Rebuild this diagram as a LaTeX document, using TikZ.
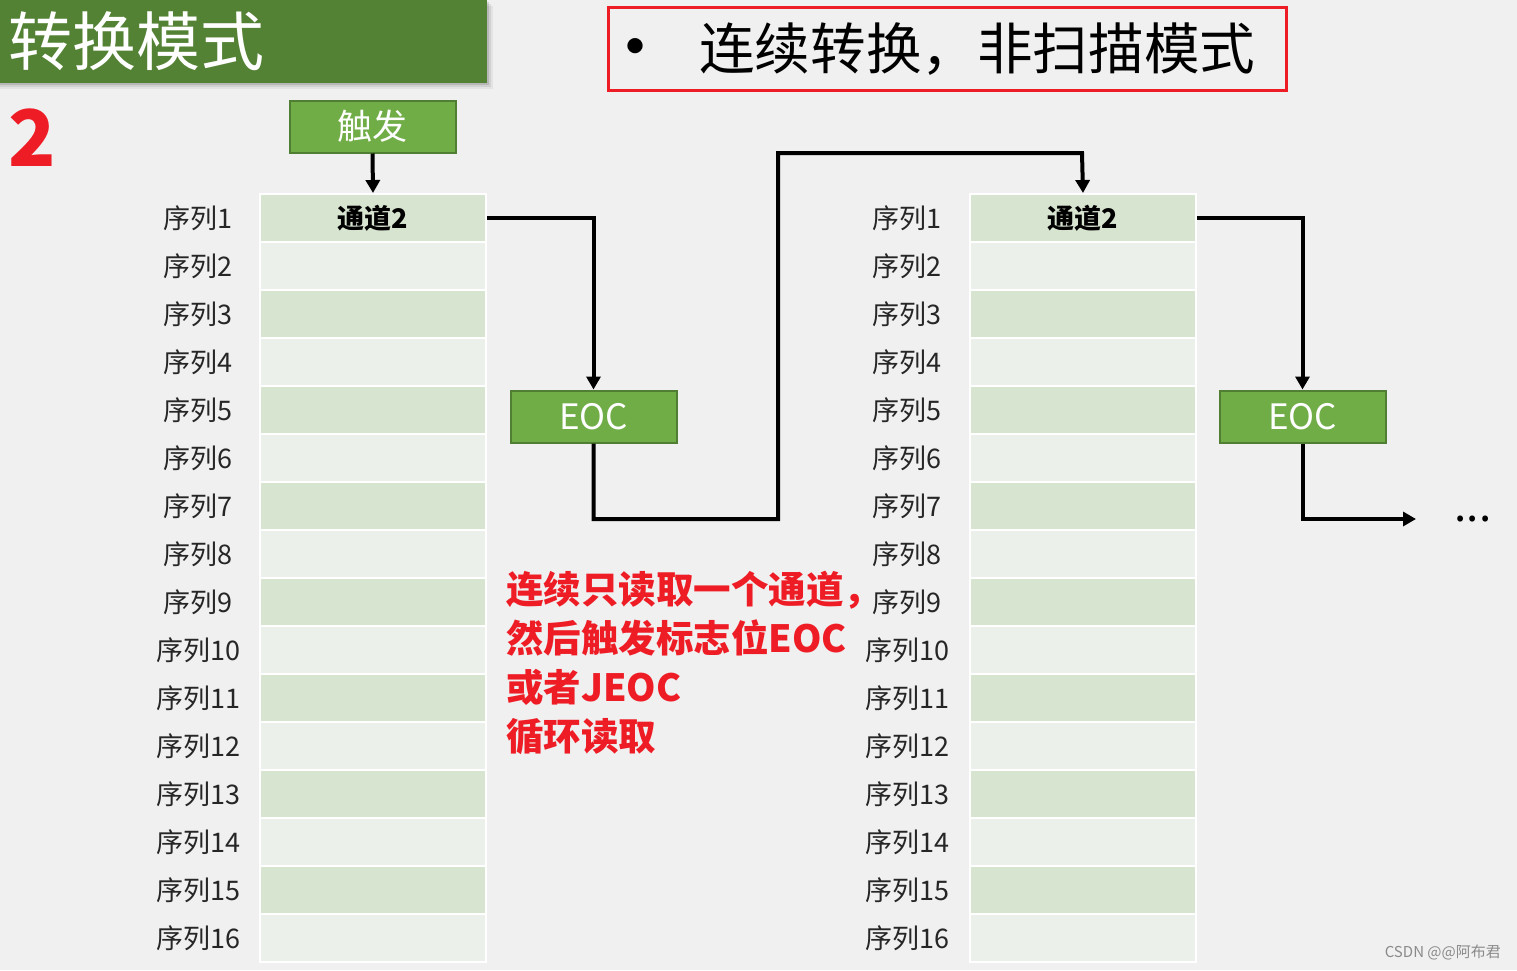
\documentclass[tikz,border=0pt]{standalone}
\usepackage{fontspec}
\setmainfont{Noto Sans CJK SC}
\usetikzlibrary{arrows.meta}
\definecolor{bg}{HTML}{F0F0F0}
\definecolor{titlegreen}{HTML}{548235}
\definecolor{boxgreen}{HTML}{70AD47}
\definecolor{boxedge}{HTML}{507E32}
\definecolor{celldark}{HTML}{D7E4D0}
\definecolor{celllight}{HTML}{EBF0EA}
\definecolor{redtxt}{HTML}{EE1C25}
\definecolor{wmgray}{HTML}{8A8A8A}
\tikzset{
  greenbox/.style={draw=boxedge, line width=2pt, fill=boxgreen, text=white,
    minimum width=166pt, minimum height=52pt, inner sep=0pt},
  cell/.style={draw=white, line width=2pt, minimum width=226pt, minimum height=48pt, inner sep=0pt},
  rowlabel/.style={inner sep=0pt, font=\fontsize{27}{27}\selectfont, text=black!85},
  conn/.style={line width=4pt, -{Triangle[width=14pt,length=13pt]}, line join=miter},
}
\begin{document}
\begin{tikzpicture}[x=1pt,y=-1pt]
\useasboundingbox[fill=bg] (0,0) rectangle (1517,970);
% title banner with shadow
\foreach \s/\o in {6/0.05,4/0.08,2/0.12}{
  \fill[black,opacity=\o] (0,\s) rectangle (487+\s,83+\s);
}
\fill[titlegreen] (0,0) rectangle (487,83);
\node[anchor=west, inner sep=0pt, text=white, font=\fontsize{64}{64}\selectfont] (title) at (8,41) {转换模式};
\node[anchor=west, inner sep=0pt, text=redtxt, font=\fontsize{78}{78}\bfseries\selectfont] (num) at (8,138) {2};
% headline box
\node[draw=redtxt, line width=2.5pt, minimum width=678pt, minimum height=83pt, inner sep=0pt] (head) at (947.5,49) {};
\node[inner sep=0pt, font=\fontsize{72}{72}\selectfont] (bullet) at (635,56) {•};
\node[anchor=west, inner sep=0pt, font=\fontsize{55.6}{55.6}\selectfont] (headtxt) at (699,49) {连续转换，非扫描模式};
% trigger
\node[greenbox, font=\fontsize{35}{35}\selectfont] (trig) at (372.5,126.5) {触发};
% tables
\foreach \i in {1,...,16}{
  \pgfmathsetmacro{\yc}{218+48*(\i-1)}
  \pgfmathtruncatemacro{\odd}{mod(\i,2)}
  \ifnum\odd=1 \def\cc{celldark}\else\def\cc{celllight}\fi
  \node[cell, fill=\cc] (L\i) at (373,\yc) {};
  \node[cell, fill=\cc] (R\i) at (1083,\yc) {};
  \node[rowlabel] (LL\i) at (198,\yc) {序列\i};
  \node[rowlabel] (RL\i) at (907,\yc) {序列\i};
}
\node[inner sep=0pt, font=\fontsize{27}{27}\bfseries\selectfont] at (L1) {通道2};
\node[inner sep=0pt, font=\fontsize{27}{27}\bfseries\selectfont] at (R1) {通道2};
% EOC boxes
\node[greenbox, font=\fontsize{35}{35}\selectfont] (eoc1) at (593.5,416.5) {EOC};
\node[greenbox, font=\fontsize{35}{35}\selectfont] (eoc2) at (1302.5,416.5) {EOC};
% connectors
\coordinate (c1) at (778,519);
\coordinate (c2) at (1082,153);
\coordinate (endpt) at (1416,519);
\draw[conn] (trig.south) -- (L1.north);
\draw[conn] (L1.east) -| (eoc1.north);
\draw[conn] (eoc1.south) |- (c1) -- (c1 |- c2) -- (c2) -- (R1.north);
\draw[conn] (R1.east) -| (eoc2.north);
\draw[conn] (eoc2.south) |- (endpt);
\node[inner sep=0pt, font=\fontsize{44}{44}\selectfont] (dots) at (1473,519) {...};
% red note
\node[anchor=north west, inner sep=0pt, align=left, text=redtxt,
  font=\fontsize{37.5}{49}\bfseries\selectfont] (note) at (506,571)
  {连续只读取一个通道，\\然后触发标志位EOC\\或者JEOC\\循环读取};
% watermark
\node[anchor=east, inner sep=0pt, text=wmgray, font=\fontsize{15}{15}\selectfont] (wm) at (1501,952) {CSDN @@阿布君};
\end{tikzpicture}
\end{document}
